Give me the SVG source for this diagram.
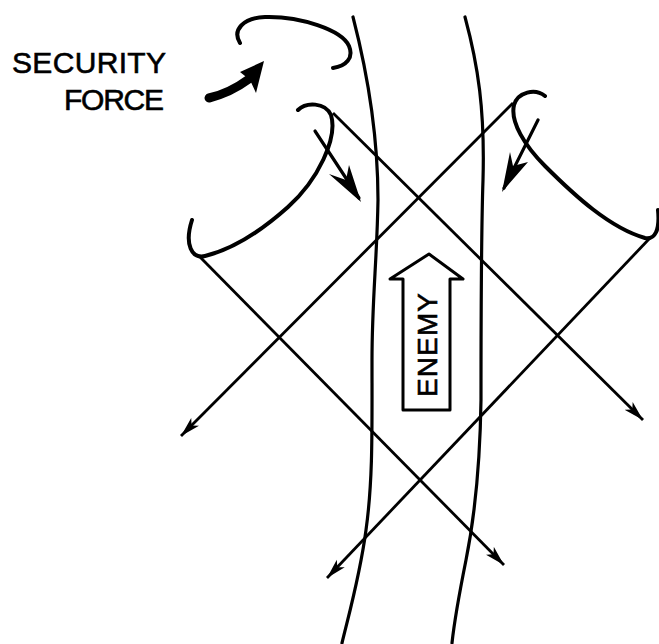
<svg xmlns="http://www.w3.org/2000/svg" width="659" height="644" viewBox="0 0 659 644">
<style>
.ink{fill:none;stroke:#000;stroke-linecap:round;stroke-linejoin:round}
.road{stroke-width:3.2}
.loop{stroke-width:4}
.diag{stroke-width:2.8;stroke-linecap:butt}
.lbl{font-family:"Liberation Sans",Arial,sans-serif;fill:#000;stroke:#000;stroke-width:0.6}
</style>
<defs>
<marker id="ah" viewBox="-20 -6 21 12" refX="0" refY="0" markerWidth="21" markerHeight="12" markerUnits="userSpaceOnUse" orient="auto">
<path d="M0,0 L-20,-5.5 L-15,0 L-20,5.5 Z" fill="#000"/>
</marker>
</defs>
<rect width="659" height="644" fill="#fff"/>
<g id="road">
<path class="ink road" d="M353,17 C368,75 378,140 378,200 C377,260 372,300 372,360 C372,430 373,480 366,530 C360,575 350,610 342,643"/>
<path class="ink road" d="M465,17 C478,65 485,110 483,180 C481,240 481,330 481,400 C480,470 474,520 466,560 C460,590 455,615 452,643"/>
</g>
<g id="security-force">
<text class="lbl" x="166" y="73" font-size="30" text-anchor="end" textLength="154" lengthAdjust="spacing">SECURITY</text>
<text class="lbl" x="164" y="110" font-size="30" text-anchor="end" textLength="100" lengthAdjust="spacing">FORCE</text>
<path d="M209,98 Q230,93 249,79" fill="none" stroke="#000" stroke-width="9" stroke-linecap="round"/>
<path d="M264,61 L240,72 L250,80 L256,93 Z" fill="#000"/>
</g>
<g id="loop-top">
<path class="ink loop" d="M240,43 C232,30 243,18 265,17 C300,16 342,30 349,46 C354,58 346,66 333,68"/>
</g>
<g id="loop-left">
<path class="ink loop" d="M298,110 C306,102 325,102 331,115 C338,138 318,180 288,207 C260,232 230,250 205,256 C192,259 184,245 192,220"/>
<path class="ink" stroke-width="3.2" d="M315,131 L359,198"/>
<path d="M361,202 L329,174 L346,180 L349,165 Z" fill="#000"/>
</g>
<g id="loop-right">
<path class="ink loop" d="M545,96 C535,88 518,92 514,105 C510,122 525,146 545,166 C575,196 610,228 645,238 C655,240 660,230 658,210"/>
<path class="ink" stroke-width="3.2" d="M538,120 L504,188"/>
<path d="M502,192 L510,152 L513,166 L528,162 Z" fill="#000"/>
</g>
<g id="enemy">
<path class="ink" stroke-width="3" d="M403,410 L403,279 L390,279 L429,254 L463,279 L450,279 L450,410 Z"/>
<text class="lbl" transform="translate(437,345) rotate(-90)" x="0" y="0" font-size="28" text-anchor="middle" textLength="104" lengthAdjust="spacing">ENEMY</text>
</g>
<g id="connectors">
<path class="ink diag" d="M200,257 L504,565" marker-end="url(#ah)"/>
<path class="ink diag" d="M333,113 L643,420" marker-end="url(#ah)"/>
<path class="ink diag" d="M513,103 L181,436" marker-end="url(#ah)"/>
<path class="ink diag" d="M650,238 L327,578" marker-end="url(#ah)"/>
</g>
</svg>
